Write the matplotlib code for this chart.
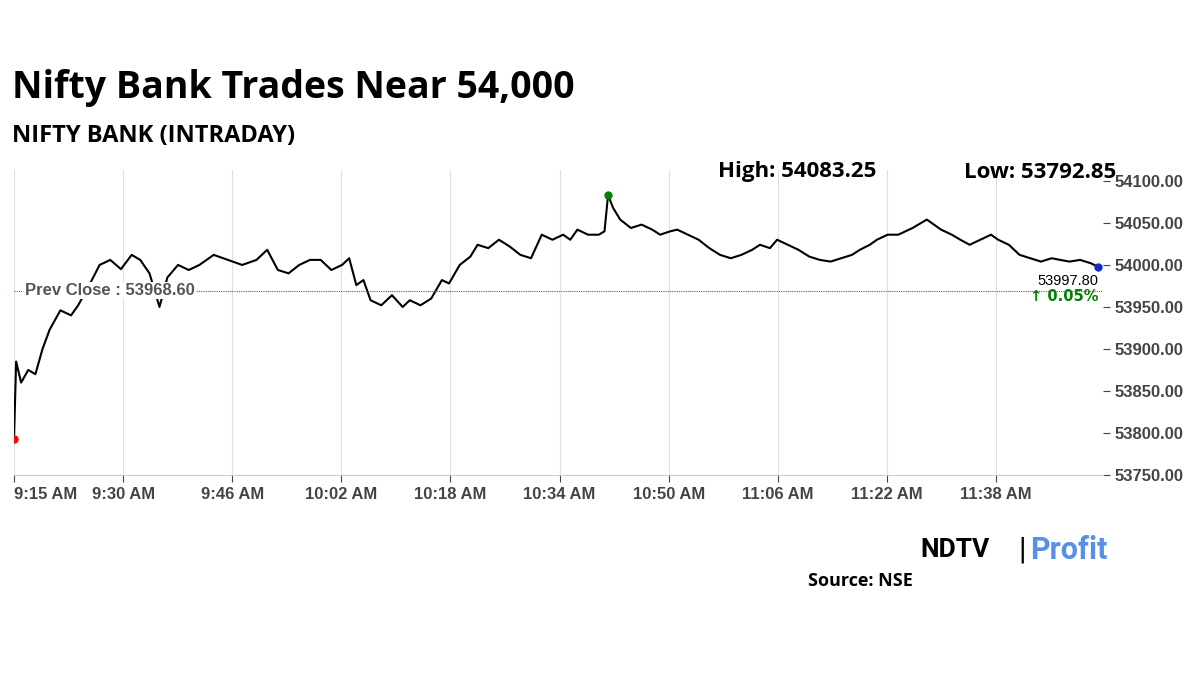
import matplotlib.pyplot as plt

# minutes after 9:15 and index level
minutes = [0, 0.3, 1, 2, 3, 4, 5, 6.5, 8, 9, 10.5, 12, 13.5, 15, 16.5, 17.7, 19, 20.4, 21.5, 23, 24.5,
           26, 28, 30, 32, 34, 35.5, 37, 38.5, 40, 41.5, 43, 44.5, 46, 47, 48, 49, 50, 51.5, 53, 54.5,
           55.5, 57, 58.5, 60, 61, 62.5, 64, 65, 66.5, 68, 69.5, 71, 72.5, 74, 75.5, 77, 78, 79, 80.5,
           82, 82.8, 83.3, 84, 85, 86.5, 88, 89.5, 90.6, 92, 93, 94.5, 96, 97.5, 99, 100.5, 102, 103.5,
           104.6, 106, 107, 108.5, 110, 111.5, 113, 114.5, 116, 117.5, 118.6, 120, 121, 122.5, 124,
           126, 128, 129, 130, 131.5, 132.7, 134, 135.5, 137, 138, 139.5, 141, 142.5, 144, 145.5,
           146.7, 148, 149.5, 151, 152]
values = [53792.85, 53885, 53860, 53875, 53870, 53900, 53923, 53946, 53940, 53952, 53975, 54000, 54006,
          53995, 54012, 54006, 53990, 53950, 53985, 54000, 53994, 54000, 54012, 54006, 54000, 54006,
          54018, 53994, 53990, 54000, 54006, 54006, 53994, 54000, 54008, 53976, 53982, 53958, 53952,
          53964, 53950, 53958, 53952, 53960, 53982, 53978, 54000, 54010, 54024, 54020, 54030, 54022,
          54012, 54008, 54036, 54030, 54036, 54030, 54042, 54036, 54036, 54040, 54083.25, 54068, 54054,
          54044, 54048, 54042, 54036, 54040, 54042, 54036, 54030, 54020, 54012, 54008, 54012, 54018,
          54024, 54020, 54030, 54024, 54018, 54010, 54006, 54004, 54008, 54012, 54018, 54024, 54030,
          54036, 54036, 54044, 54054, 54048, 54042, 54036, 54030, 54024, 54030, 54036, 54030, 54024,
          54012, 54008, 54004, 54008, 54006, 54004, 54006, 54002, 53997.80]
tick_min = [i * 15.3 for i in range(10)]
tick_labels = ["9:15 AM", "9:30 AM", "9:46 AM", "10:02 AM", "10:18 AM", "10:34 AM",
               "10:50 AM", "11:06 AM", "11:22 AM", "11:38 AM"]
y_ticks = [53750, 53800, 53850, 53900, 53950, 54000, 54050, 54100]
prev_close = 53968.60
high, low = 54083.25, 53792.85

plt.rcParams["font.family"] = "Open Sans"
fig = plt.figure(figsize=(12, 6.75), dpi=100)
ax = fig.add_axes([14 / 1200, 1 - 475 / 675, (1103 - 14) / 1200, (475 - 170) / 675])

ax.plot(minutes, values, color="black", lw=1.5)
ax.axhline(prev_close, color="#e03030", lw=0.8, ls=(0, (1, 1)))
i_max = values.index(max(values))
ax.plot(minutes[0], values[0], "o", color="red", ms=5)
ax.plot(minutes[i_max], values[i_max], "o", color="green", ms=5)
ax.plot(minutes[-1], values[-1], "o", color="#1030c0", ms=5)

ax.set_xlim(0, 152.7)
ax.set_ylim(53750, 54113)
ax.set_xticks(tick_min, tick_labels)
ax.set_yticks(y_ticks, [f"{v:.2f}" for v in y_ticks])
ax.yaxis.tick_right()
ax.tick_params(labelsize=12, colors="#444444", length=5)
for lab in ax.get_xticklabels() + ax.get_yticklabels():
    lab.set_fontfamily("Liberation Sans")
    lab.set_fontweight("bold")
ax.get_xticklabels()[0].set_horizontalalignment("left")
ax.grid(axis="x", color="#e0e0e0", lw=0.8)
for s in ["top", "left", "right"]:
    ax.spines[s].set_visible(False)
ax.spines["bottom"].set_color("#cccccc")

ax.text(1.5, prev_close + 1, "Prev Close : 53968.60", fontsize=12, fontweight="bold",
        fontfamily="Liberation Sans", color="#555555", va="center", ha="left",
        bbox=dict(fc="white", ec="none", pad=1))
ax.text(minutes[-1], values[-1] - 8, f"{values[-1]:.2f}", fontsize=10.5, ha="right", va="top",
        fontfamily="Liberation Sans")
ax.text(minutes[-1], values[-1] - 27, "\u2191 0.05%", fontsize=10.5, ha="right", va="top",
        color="green", fontweight="bold", fontfamily="DejaVu Sans")

fig.text(12 / 1200, 1 - 88 / 675, "Nifty Bank Trades Near 54,000", fontsize=27,
         fontweight="bold", va="center")
fig.text(12 / 1200, 1 - 136 / 675, "NIFTY BANK (INTRADAY)", fontsize=17,
         fontweight="bold", va="center")
fig.text(718 / 1200, 1 - 172 / 675, f"High: {high:.2f}", fontsize=16, fontweight="bold",
         va="center")
fig.text(964 / 1200, 1 - 172 / 675, f"Low: {low:.2f}", fontsize=16, fontweight="bold",
         va="center")
fig.text(920 / 1200, 1 - 550 / 675, "NDTV", fontsize=19, fontweight="bold", va="center",
         fontfamily="Roboto")
fig.text(1018 / 1200, 1 - 550 / 675, "|", fontsize=22, va="center", fontfamily="Roboto")
fig.text(1030 / 1200, 1 - 550 / 675, "Profit", fontsize=22, fontweight="bold",
         color="#5a8fe8", va="center", fontfamily="Roboto")
fig.text(860 / 1200, 1 - 581 / 675, "Source: NSE", fontsize=13, fontweight="bold",
         va="center", ha="center")

fig.savefig("out.png", dpi=100)
